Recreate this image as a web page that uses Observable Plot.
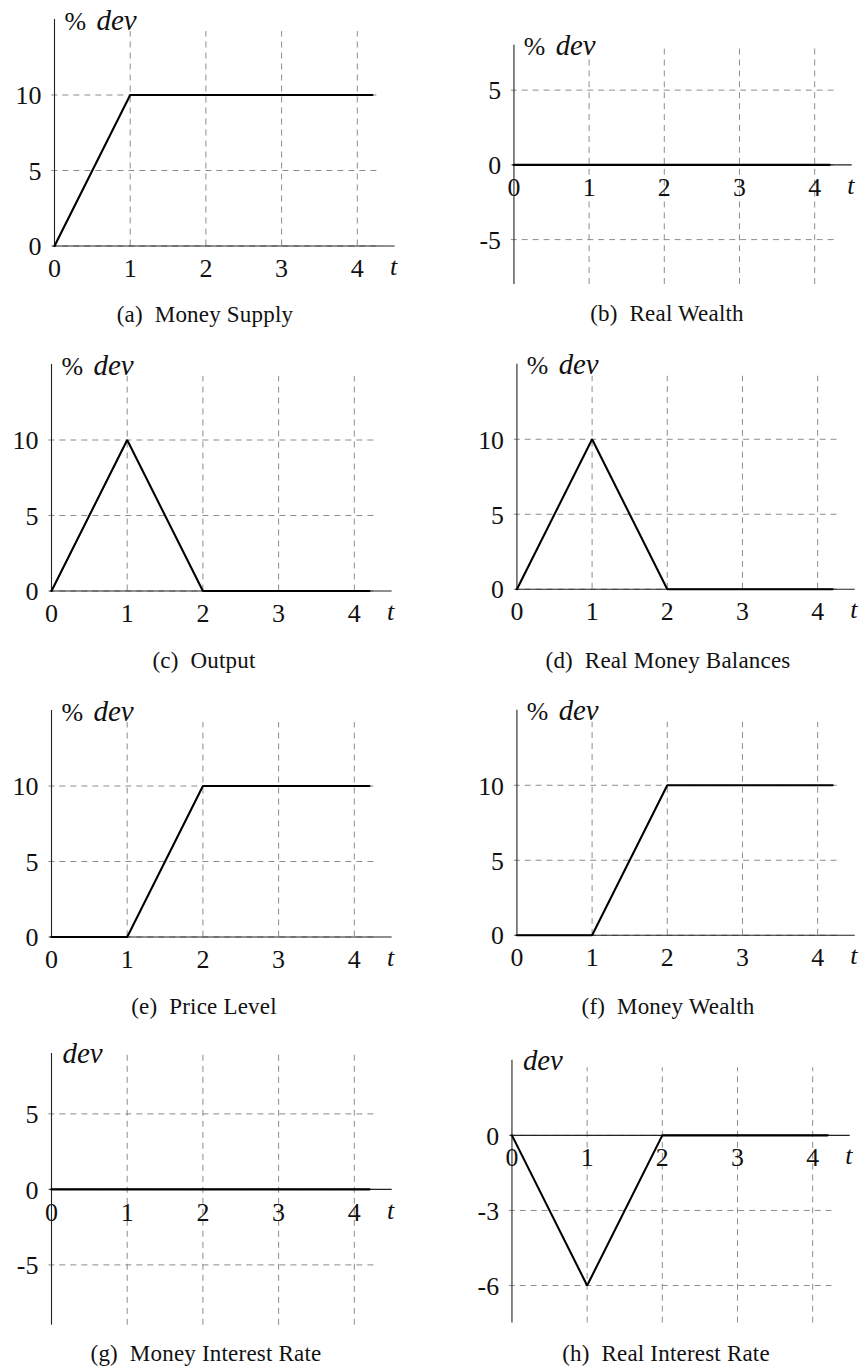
<!DOCTYPE html>
<html>
<head>
<meta charset="utf-8">
<script src="https://cdn.jsdelivr.net/npm/d3@7"></script>
<script src="https://cdn.jsdelivr.net/npm/@observablehq/plot@0.6"></script>
<style>
  html, body { margin: 0; padding: 0; background: #fff; }
  #root { position: relative; width: 867px; height: 1368px; overflow: hidden; font-family: "Liberation Serif", "DejaVu Serif", serif; }
  .panel { position: absolute; }
  .panel svg { overflow: visible; }
  .panel svg, .panel svg text, .panel svg g { font-family: "Liberation Serif", serif !important; }
  .cap { position: absolute; transform: translate(-50%, -50%); font-size: 23px; white-space: pre; color: #111; line-height: 1; letter-spacing: 0.2px; }
</style>
</head>
<body>
<div id="root"></div>
<script>
// ---- data ----
const xTicks = [0, 1, 2, 3, 4];
const gridX = [1, 2, 3, 4];
const ticksPct = [0, 5, 10];
const ticksSym = [-5, 0, 5];
const ticksReal = [-6, -3, 0];

const moneySupplyT = [0, 1, 4.2];
const moneySupplyV = [0, 10, 10];
const realWealthT = [0, 4.2];
const realWealthV = [0, 0];
const outputT = [0, 1, 2, 4.2];
const outputV = [0, 10, 0, 0];
const realMoneyT = [0, 1, 2, 4.2];
const realMoneyV = [0, 10, 0, 0];
const priceLevelT = [0, 1, 2, 4.2];
const priceLevelV = [0, 0, 10, 10];
const moneyWealthT = [0, 1, 2, 4.2];
const moneyWealthV = [0, 0, 10, 10];
const moneyRateT = [0, 4.2];
const moneyRateV = [0, 0];
const realRateT = [0, 1, 2, 4.2];
const realRateV = [0, -6, 0, 0];

const captions = ["(a)  Money Supply", "(b)  Real Wealth", "(c)  Output", "(d)  Real Money Balances",
                  "(e)  Price Level", "(f)  Money Wealth", "(g)  Money Interest Rate", "(h)  Real Interest Rate"];
const yLabels = ["% dev", "% dev", "% dev", "% dev", "% dev", "% dev", "dev", "dev"];

// ---- layout ----
const unitX = 75.7;
const panels = [
  {t: moneySupplyT, v: moneySupplyV, ticks: ticksPct, left: 0,   axisX: 54,  y0: 245,  unitY: 15.1, ymin: 0,  ymax: 15, g0: 0,   g1: 14.2, capX: 205, capY: 314},
  {t: realWealthT,  v: realWealthV,  ticks: ticksSym, left: 433, axisX: 514, y0: 165,  unitY: 15.05, ymin: -8, ymax: 8, g0: -8,  g1: 8,    capX: 667, capY: 313},
  {t: outputT,      v: outputV,      ticks: ticksPct, left: 0,   axisX: 51,  y0: 590,  unitY: 15.1, ymin: 0,  ymax: 15, g0: 0,   g1: 14.2, capX: 204, capY: 660},
  {t: realMoneyT,   v: realMoneyV,   ticks: ticksPct, left: 433, axisX: 517, y0: 590,  unitY: 15.1, ymin: 0,  ymax: 15, g0: 0,   g1: 14.2, capX: 668, capY: 660},
  {t: priceLevelT,  v: priceLevelV,  ticks: ticksPct, left: 0,   axisX: 51,  y0: 936,  unitY: 15.1, ymin: 0,  ymax: 15, g0: 0,   g1: 14.2, capX: 204, capY: 1006},
  {t: moneyWealthT, v: moneyWealthV, ticks: ticksPct, left: 433, axisX: 517, y0: 936,  unitY: 15.1, ymin: 0,  ymax: 15, g0: 0,   g1: 14.2, capX: 668, capY: 1006},
  {t: moneyRateT,   v: moneyRateV,   ticks: ticksSym, left: 0,   axisX: 51,  y0: 1189, unitY: 15.1, ymin: -9, ymax: 9, g0: -9,  g1: 9,    capX: 206, capY: 1353},
  {t: realRateT,    v: realRateV,    ticks: ticksReal,left: 433, axisX: 512, y0: 1136, unitY: 25.2, ymin: -7.5, ymax: 3, g0: -7.5, g1: 2.7, capX: 666, capY: 1353}
];

const root = document.getElementById("root");
const FS = 26;
const FF = "Liberation Serif";
const gridStyle = {stroke: "#8c8c8c", strokeWidth: 1, strokeDasharray: "6,5"};

panels.forEach((p, i) => {
  const width = 437;
  const mTop = 30, mBottom = 50;
  const plotH = (p.ymax - p.ymin) * p.unitY;
  const height = mTop + plotH + mBottom;
  const yTop = p.y0 - p.ymax * p.unitY;
  const mLeft = p.axisX - p.left;
  const mRight = width - mLeft - 4.5 * unitX;
  const data = p.t.map((t, k) => ({t, v: p.v[k]}));
  const label = yLabels[i];
  const hasPct = label.startsWith("%");
  const txt = {fontSize: FS, fontFamily: FF, fill: "#111"};

  const marks = [
    // grid
    Plot.ruleY(p.ticks, {y: d => d, x1: -0.035, x2: 4.32, ...gridStyle}),
    Plot.ruleX(gridX, {x: d => d, y1: p.g0, y2: p.g1, ...gridStyle}),
    // axes
    Plot.ruleY([0], {x1: -0.02, x2: 4.5, stroke: "#222", strokeWidth: 1.1}),
    Plot.ruleX([0], {y1: p.ymin, y2: p.ymax, stroke: "#222", strokeWidth: 1.1}),
    // data line
    Plot.line(data, {x: "t", y: "v", stroke: "#000", strokeWidth: 2.1, strokeLinejoin: "miter"}),
    // y tick labels
    Plot.text(p.ticks, {x: 0, y: d => d, text: d => String(d), textAnchor: "end", lineAnchor: "middle", dx: -13, dy: 1, ...txt}),
    // x tick labels
    Plot.text(xTicks, {x: d => d, y: 0, text: d => String(d), textAnchor: "middle", lineAnchor: "middle", dy: 23, ...txt}),
    // t label
    Plot.text(["t"], {x: 4.48, y: 0, text: d => d, textAnchor: "middle", lineAnchor: "middle", dy: 21, fontStyle: "italic", ...txt})
  ];
  if (hasPct) {
    marks.push(Plot.text(["%"], {x: 0, y: p.ymax, text: d => d, textAnchor: "start", lineAnchor: "bottom", dx: 10, dy: 10, ...txt}));
    marks.push(Plot.text(["dev"], {x: 0, y: p.ymax, text: d => d, textAnchor: "start", lineAnchor: "bottom", dx: 42, dy: 10, fontStyle: "italic", ...txt, fontSize: FS + 3}));
  } else {
    marks.push(Plot.text(["dev"], {x: 0, y: p.ymax, text: d => d, textAnchor: "start", lineAnchor: "bottom", dx: 11, dy: 10, fontStyle: "italic", ...txt, fontSize: FS + 3}));
  }

  const svg = Plot.plot({
    width, height,
    marginLeft: mLeft, marginRight: mRight, marginTop: mTop, marginBottom: mBottom,
    style: {background: "transparent", overflow: "visible"},
    x: {domain: [0, 4.5], axis: null},
    y: {domain: [p.ymin, p.ymax], axis: null},
    marks
  });

  const div = document.createElement("div");
  div.className = "panel";
  div.style.left = p.left + "px";
  div.style.top = (yTop - mTop) + "px";
  div.appendChild(svg);
  root.appendChild(div);

  const cap = document.createElement("div");
  cap.className = "cap";
  cap.style.left = p.capX + "px";
  cap.style.top = p.capY + "px";
  cap.textContent = captions[i];
  root.appendChild(cap);
});
</script>
</body>
</html>
